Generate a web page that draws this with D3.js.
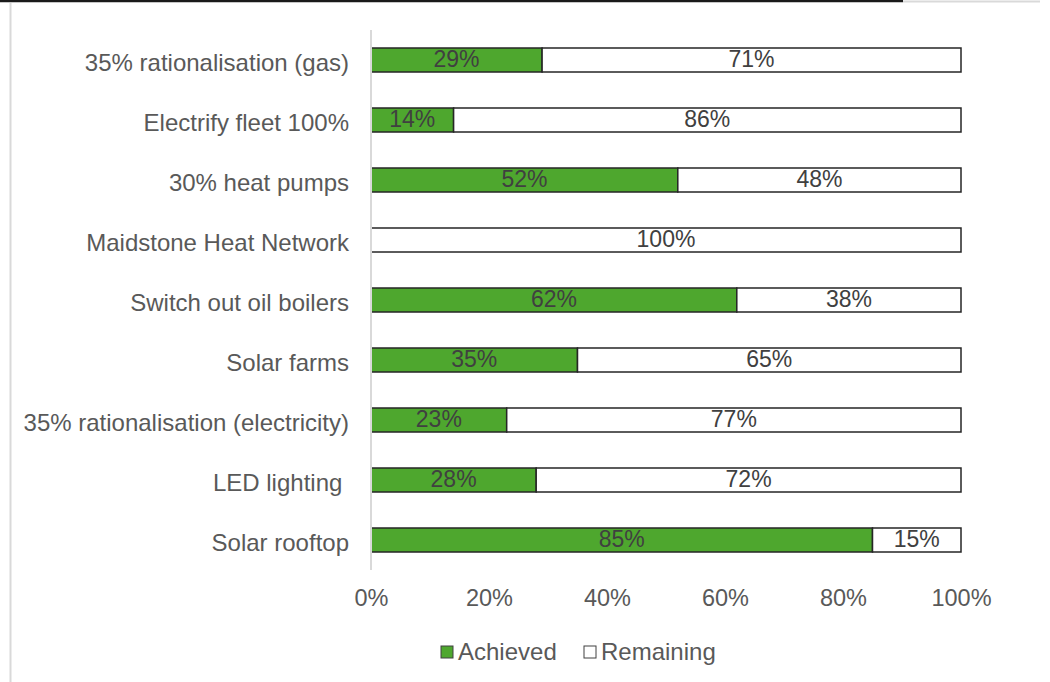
<!DOCTYPE html>
<html>
<head>
<meta charset="utf-8">
<script src="https://cdn.jsdelivr.net/npm/d3@7"></script>
<style>
  html, body { margin: 0; padding: 0; background: #fff; }
  svg { display: block; }
  text { font-family: "Liberation Sans", Arial, sans-serif; }
</style>
</head>
<body>
<svg id="chart" width="1050" height="682"></svg>
<script>
// Project progress: share achieved vs remaining per measure
const categories = [
  "35% rationalisation (gas)",
  "Electrify fleet 100%",
  "30% heat pumps",
  "Maidstone Heat Network",
  "Switch out oil boilers",
  "Solar farms",
  "35% rationalisation (electricity)",
  "LED lighting\u00a0",
  "Solar rooftop"
];
const achieved  = [29, 14, 52, 0, 62, 35, 23, 28, 85];
const remaining = [71, 86, 48, 100, 38, 65, 77, 72, 15];
const xTicks = [0, 20, 40, 60, 80, 100];
const seriesNames = ["Achieved", "Remaining"];
const seriesColors = ["#4ea72e", "#ffffff"];

const svg = d3.select("#chart");
const W = 1050, H = 682;
const FS = 23;

// frame lines
svg.append("line").attr("x1", 903).attr("x2", 1040).attr("y1", 1.5).attr("y2", 1.5)
  .attr("stroke", "#d9d9d9").attr("stroke-width", 2);
svg.append("line").attr("x1", 0).attr("x2", 903).attr("y1", 1).attr("y2", 1)
  .attr("stroke", "#1a1a1a").attr("stroke-width", 2.5);
svg.append("line").attr("x1", 10.5).attr("x2", 10.5).attr("y1", 3).attr("y2", H)
  .attr("stroke", "#d9d9d9").attr("stroke-width", 2);

const x = d3.scaleLinear().domain([0, 100]).range([371, 961]);
const y = d3.scaleBand().domain(categories).range([30, 570]).paddingInner(0.6).paddingOuter(0.3);

const rows = categories.map((c, i) => ({ cat: c, vals: [achieved[i], remaining[i]] }));
const stack = d3.stack().keys([0, 1]).value((d, k) => d.vals[k]);
const layers = stack(rows);

const g = svg.append("g");
layers.forEach((layer, k) => {
  const lg = g.append("g");
  lg.selectAll("rect")
    .data(layer.filter(d => d[1] - d[0] > 0))
    .join("rect")
    .attr("x", d => x(d[0]))
    .attr("y", d => y(d.data.cat))
    .attr("width", d => x(d[1]) - x(d[0]))
    .attr("height", y.bandwidth())
    .attr("fill", seriesColors[k])
    .attr("stroke", "#262626")
    .attr("stroke-width", 1.5);
  lg.selectAll("text")
    .data(layer.filter(d => d[1] - d[0] > 0))
    .join("text")
    .attr("x", d => (x(d[0]) + x(d[1])) / 2)
    .attr("y", d => y(d.data.cat) + y.bandwidth() / 2)
    .attr("dy", "0.3em")
    .attr("text-anchor", "middle")
    .attr("font-size", FS)
    .attr("fill", "#404040")
    .text(d => (d[1] - d[0]) + "%");
});

// vertical category axis line
svg.append("line").attr("x1", 371).attr("x2", 371).attr("y1", 30).attr("y2", 570)
  .attr("stroke", "#d9d9d9").attr("stroke-width", 2);

// category labels
const yAxis = svg.append("g").attr("transform", "translate(371,3)")
  .call(d3.axisLeft(y).tickSize(0).tickPadding(22));
yAxis.select(".domain").remove();
yAxis.selectAll("text").attr("font-size", 24).attr("fill", "#595959")
  .attr("font-family", "'Liberation Sans', Arial, sans-serif");

// percentage axis
const xAxis = svg.append("g").attr("transform", "translate(0,570)")
  .call(d3.axisBottom(x).tickValues(xTicks).tickSize(0).tickPadding(19).tickFormat(d => d + "%"));
xAxis.select(".domain").remove();
xAxis.selectAll("text").attr("font-size", 23.5).attr("fill", "#595959")
  .attr("font-family", "'Liberation Sans', Arial, sans-serif");

// legend
const legendX = [441, 584];
const leg = svg.append("g");
seriesNames.forEach((name, k) => {
  leg.append("rect").attr("x", legendX[k]).attr("y", 646).attr("width", 12).attr("height", 12)
    .attr("fill", seriesColors[k]).attr("stroke", "#404040").attr("stroke-width", 1);
  leg.append("text").attr("x", legendX[k] + 17).attr("y", 652).attr("dy", "0.35em")
    .attr("font-size", 24).attr("fill", "#595959").text(name);
});
</script>
</body>
</html>
